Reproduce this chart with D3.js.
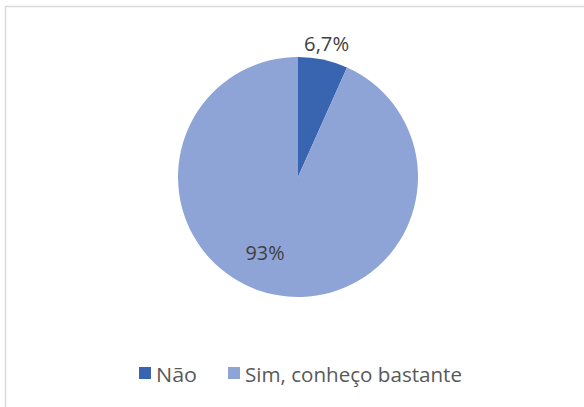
<!DOCTYPE html>
<html><head><meta charset="utf-8">
<script src="https://cdn.jsdelivr.net/npm/d3@7"></script>
<style>html,body{margin:0;padding:0;background:#fff;}svg{display:block;}</style>
</head><body>
<svg id="c" width="584" height="407"></svg>
<script>
const categories = ["Não", "Sim, conheço bastante"];
const values = [6.7, 93.3];
const labels = ["6,7%", "93%"];
const colors = ["#3964B0", "#8FA4D6"];

const svg = d3.select("#c");
svg.append("rect").attr("x", 5.5).attr("y", 6.5).attr("width", 600).attr("height", 420)
  .attr("fill", "#fff").attr("stroke", "#d9d9d9").attr("stroke-width", 1.5);

const cx = 298, cy = 177, R = 120;
const pie = d3.pie().sort(null).value(d => d)(values);
const arc = d3.arc().innerRadius(0).outerRadius(R);
const g = svg.append("g").attr("transform", `translate(${cx},${cy})`);
g.selectAll("path").data(pie).join("path")
  .attr("d", arc).attr("fill", (d, i) => colors[i]);

const font = "'Open Sans', 'Liberation Sans', sans-serif";
const labelPos = [
  {r: 137, a: null, w: 45},
  {r: 82, a: 203.7 * Math.PI / 180, w: 39}
];
pie.forEach((d, i) => {
  const a = labelPos[i].a ?? (d.startAngle + d.endAngle) / 2;
  const r = labelPos[i].r;
  g.append("text").attr("x", r * Math.sin(a)).attr("y", -r * Math.cos(a))
    .attr("text-anchor", "middle").attr("dominant-baseline", "central")
    .attr("font-family", font).attr("font-size", 20).attr("fill", "#404040")
    .attr("textLength", labelPos[i].w).attr("lengthAdjust", "spacingAndGlyphs")
    .text(labels[i]);
});

const leg = svg.append("g").attr("font-family", font).attr("font-size", 20);
const legX = [139, 228];
const legW = [41, 217];
categories.forEach((c, i) => {
  leg.append("rect").attr("x", legX[i]).attr("y", 367).attr("width", 12).attr("height", 12).attr("fill", colors[i]);
  leg.append("text").attr("x", legX[i] + 17).attr("y", 374).attr("dominant-baseline", "central")
    .attr("fill", "#595959").attr("textLength", legW[i]).attr("lengthAdjust", "spacingAndGlyphs").text(c);
});
</script>
</body></html>
